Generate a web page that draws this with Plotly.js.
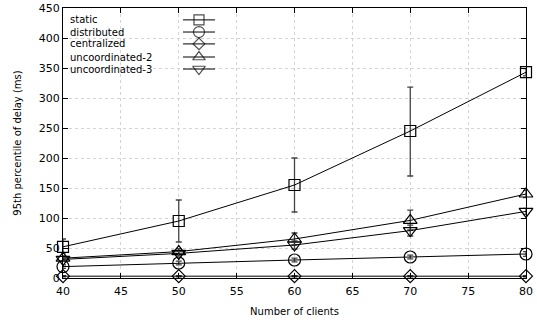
<!DOCTYPE html>
<html><head><meta charset="utf-8">
<script src="https://cdn.plot.ly/plotly-3.0.1.min.js"></script>
<style>html,body{margin:0;padding:0;background:#fff}#chart{width:537px;height:320px}</style>
</head><body><div id="chart"></div>
<script>
const clients = [40, 50, 60, 70, 80];
const seriesNames = ['static', 'distributed', 'centralized', 'uncoordinated-2', 'uncoordinated-3'];
const staticVals = [52, 95, 155, 245, 343];
const staticErrPlus = [13, 35, 45, 73, 6];
const staticErrMinus = [10, 35, 45, 75, 6];
const distributedVals = [19, 25, 30, 35, 40];
const distributedErr = [3, 3, 3, 3, 4];
const centralizedVals = [3, 3, 3, 3, 3];
const centralizedErr = [1, 1, 1, 1, 1];
const uncoord2Vals = [33, 44, 65, 96, 140];
const uncoord2ErrPlus = [4, 5, 10, 17, 6];
const uncoord2ErrMinus = [4, 5, 10, 16, 6];
const uncoord3Vals = [31, 41, 55, 79, 111];
const uncoord3ErrPlus = [3, 4, 7, 9, 5];
const uncoord3ErrMinus = [3, 4, 7, 9, 5];
const xTicks = [40, 45, 50, 55, 60, 65, 70, 75, 80];
const yTicks = [0, 50, 100, 150, 200, 250, 300, 350, 400, 450];

const symbols = ['square-open', 'circle-open', 'diamond-open', 'triangle-up-open', 'triangle-down-open'];
const msizes = [11, 12, 10, 12, 12];
const vals = [staticVals, distributedVals, centralizedVals, uncoord2Vals, uncoord3Vals];
const errP = [staticErrPlus, distributedErr, centralizedErr, uncoord2ErrPlus, uncoord3ErrPlus];
const errM = [staticErrMinus, distributedErr, centralizedErr, uncoord2ErrMinus, uncoord3ErrMinus];

const traces = [];
vals.forEach((v, i) => {
  traces.push({
    x: clients, y: v, type: 'scatter', mode: 'lines+markers', name: seriesNames[i],
    showlegend: false, cliponaxis: false,
    line: {color: '#000', width: 1},
    marker: {symbol: symbols[i], size: msizes[i], color: '#000', line: {width: 1.2, color: '#000'}},
    error_y: {type: 'data', symmetric: false, array: errP[i], arrayminus: errM[i],
              color: '#444', thickness: 1.3, width: 3}
  });
});

// legend samples (right of text, like the original)
const legRows = [0.956, 0.911, 0.867, 0.8185, 0.774];
const legX = [0.2592, 0.2937, 0.3283];
const annotations = [];
seriesNames.forEach((n, i) => {
  traces.push({
    x: legX, y: [legRows[i], legRows[i], legRows[i]], xaxis: 'x2', yaxis: 'y2',
    type: 'scatter', mode: 'lines+markers', showlegend: false, hoverinfo: 'skip', cliponaxis: false,
    line: {color: '#000', width: 1},
    marker: {symbol: symbols[i], size: [0, msizes[i] - 1, 0], color: '#000', line: {width: 1.2, color: '#000'}}
  });
  annotations.push({
    xref: 'paper', yref: 'paper', x: 0.014, y: legRows[i], xanchor: 'left', yanchor: 'middle',
    text: n, showarrow: false, borderpad: 0,
    font: {family: 'DejaVu Sans', size: 10, color: '#000'}
  });
});

const layout = {
  width: 537, height: 320,
  margin: {l: 63, r: 11, t: 8, b: 42},
  paper_bgcolor: '#fff', plot_bgcolor: '#fff',
  font: {family: 'DejaVu Sans', size: 11, color: '#000'},
  showlegend: false,
  xaxis: {
    range: [40, 80], tickvals: xTicks, ticktext: xTicks.map(String),
    ticks: 'inside', ticklen: 5, tickcolor: '#000', mirror: 'ticks',
    showline: true, linecolor: '#000', linewidth: 1, ticklabelstandoff: 3,
    showgrid: true, gridcolor: '#d4d4d4', griddash: 'dot', gridwidth: 1,
    zeroline: false,
    title: {text: 'Number of clients', font: {size: 10}, standoff: 10}
  },
  yaxis: {
    range: [0, 450], tickvals: yTicks, ticktext: yTicks.map(String),
    ticks: 'inside', ticklen: 5, tickcolor: '#000', mirror: 'ticks',
    showline: true, linecolor: '#000', linewidth: 1,
    showgrid: true, gridcolor: '#d4d4d4', griddash: 'dot', gridwidth: 1,
    zeroline: false,
    title: {text: '95th percentile of delay (ms)', font: {size: 10}, standoff: 15}
  },
  xaxis2: {overlaying: 'x', range: [0, 1], visible: false, fixedrange: true},
  yaxis2: {overlaying: 'y', range: [0, 1], visible: false, fixedrange: true},
  annotations: annotations
};
Plotly.newPlot('chart', traces, layout, {displayModeBar: false, staticPlot: true});
</script></body></html>
